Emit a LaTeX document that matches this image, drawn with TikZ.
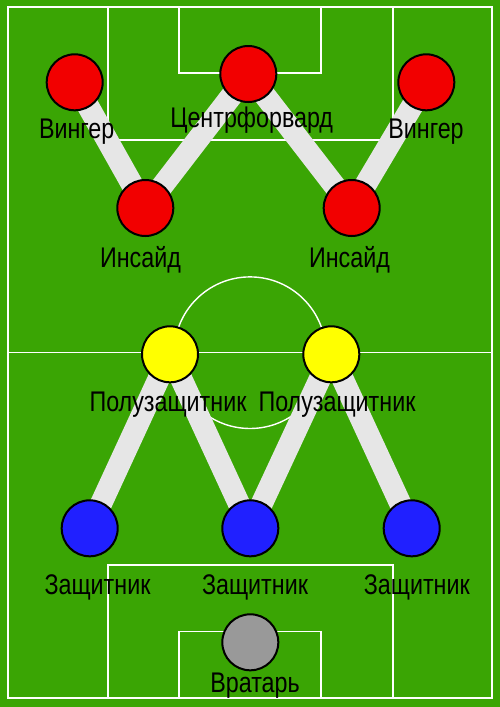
\documentclass[tikz,border=0pt]{standalone}
\usepackage{fontspec}
\newfontfamily\lblfont[FakeStretch=0.82]{Liberation Sans}
\definecolor{pitch}{HTML}{3AA504}
\definecolor{band}{HTML}{E6E6E6}
\definecolor{pred}{HTML}{F20000}
\definecolor{pyellow}{HTML}{FFFF00}
\definecolor{pblue}{HTML}{2020FF}
\definecolor{pgray}{HTML}{999999}
\tikzset{
  fieldline/.style={draw=white,line width=1.4pt},
  link/.style={draw=band,line width=22pt},
  player/.style={circle,draw=black,line width=2pt,minimum size=56pt,inner sep=0pt},
  lbl/.style={anchor=base,inner sep=0pt,font=\lblfont\fontsize{28.4}{30}\selectfont,text=black},
}
\begin{document}
\begin{tikzpicture}[x=1pt,y=-1pt]
\fill[pitch] (0,0) rectangle (500,707);
\useasboundingbox (0,0) rectangle (500,707);
% field markings
\draw[fieldline] (8,7) rectangle (492,698);
\draw[fieldline] (8,352.7) -- (492,352.7);
\draw[fieldline] (250,352.7) circle[radius=75.8];
\draw[fieldline] (108,7) rectangle (393,140);
\draw[fieldline] (179,7) rectangle (321,73);
\draw[fieldline] (108,698) rectangle (393,565);
\draw[fieldline] (179,698) rectangle (321,631.7);
% player positions
\coordinate (wl) at (74.7,82.3);
\coordinate (cf) at (248.3,74);
\coordinate (wr) at (426.3,82.3);
\coordinate (il) at (145.3,208);
\coordinate (ir) at (351.7,208);
\coordinate (ml) at (170,354.3);
\coordinate (mr) at (331.3,354.3);
\coordinate (dl) at (89.7,528.3);
\coordinate (dm) at (250.3,528.3);
\coordinate (dr) at (411.7,528.3);
\coordinate (gk) at (250.3,642.3);
% links
\draw[link] (wl) -- (il);
\draw[link] (il) -- (cf);
\draw[link] (cf) -- (ir);
\draw[link] (ir) -- (wr);
\draw[link] (ml) -- (dl);
\draw[link] (ml) -- (dm);
\draw[link] (mr) -- (dm);
\draw[link] (mr) -- (dr);
% players
\node[player,fill=pred] (nwl) at (wl) {};
\node[player,fill=pred] (ncf) at (cf) {};
\node[player,fill=pred] (nwr) at (wr) {};
\node[player,fill=pred] (nil) at (il) {};
\node[player,fill=pred] (nir) at (ir) {};
\node[player,fill=pyellow] (nml) at (ml) {};
\node[player,fill=pyellow] (nmr) at (mr) {};
\node[player,fill=pblue] (ndl) at (dl) {};
\node[player,fill=pblue] (ndm) at (dm) {};
\node[player,fill=pblue] (ndr) at (dr) {};
\node[player,fill=pgray] (ngk) at (gk) {};
% labels
\node[lbl] (twl) at (76.7,138) {Вингер};
\node[lbl] (tcf) at (251.7,127) {Центрфорвард};
\node[lbl] (twr) at (426,138) {Вингер};
\node[lbl] (til) at (140.5,267) {Инсайд};
\node[lbl] (tir) at (349.5,267) {Инсайд};
\node[lbl] (tml) at (168,411) {Полузащитник};
\node[lbl] (tmr) at (337,411) {Полузащитник};
\node[lbl] (tdl) at (97.5,594.3) {Защитник};
\node[lbl] (tdm) at (255,594.3) {Защитник};
\node[lbl] (tdr) at (416.8,594.3) {Защитник};
\node[lbl] (tgk) at (255,692) {Вратарь};
\end{tikzpicture}
\end{document}
